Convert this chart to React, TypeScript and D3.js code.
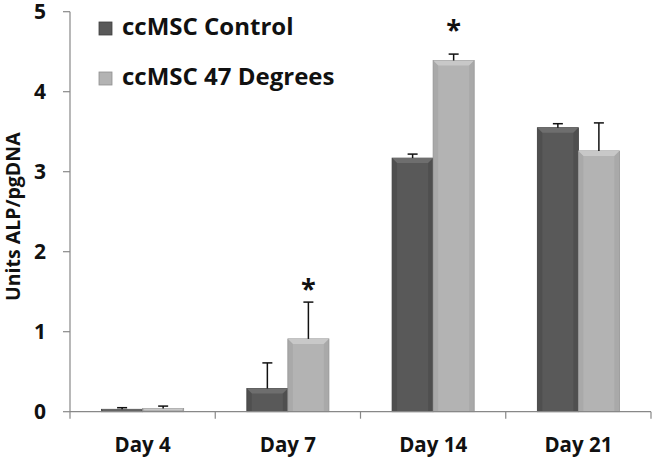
import React from "react";
import * as d3 from "d3";

const days = ["Day 4", "Day 7", "Day 14", "Day 21"];
const seriesNames = ["ccMSC Control", "ccMSC 47 Degrees"];
const controlValues = [0.03, 0.29, 3.17, 3.55];
const controlErr = [0.02, 0.32, 0.05, 0.05];
const heatValues = [0.04, 0.91, 4.39, 3.26];
const heatErr = [0.03, 0.46, 0.08, 0.35];
// asterisk baseline level (in y units), null when not significant
const starLevel = [null, 1.42, 4.66, null];
const yTicks = [0, 1, 2, 3, 4, 5];

const W = 652, H = 459;
const margin = { left: 70, right: 1, top: 11.7, bottom: 47.3 };
const font = "'Open Sans', Lato, sans-serif";

const colors = [
  { base: "#595959", edge: "#3f3f3f", light: "#6e6e6e", dark: "#4a4a4a" },
  { base: "#b3b3b3", edge: "#8f8f8f", light: "#c8c8c8", dark: "#a2a2a2" },
];

function Bar({ x, y, w, h, c }: { x: number; y: number; w: number; h: number; c: typeof colors[0] }) {
  const b = Math.min(5, h / 2, w / 2);
  return (
    <g>
      <rect x={x} y={y} width={w} height={h} fill={c.base} stroke={c.edge} strokeWidth={0.8} />
      {h > 2 && (
        <>
          <polygon points={`${x},${y} ${x + w},${y} ${x + w - b},${y + b} ${x + b},${y + b}`} fill={c.light} />
          <polygon points={`${x},${y} ${x + b},${y + b} ${x + b},${y + h} ${x},${y + h}`} fill={c.dark} opacity={0.6} />
          <polygon points={`${x + w},${y} ${x + w - b},${y + b} ${x + w - b},${y + h} ${x + w},${y + h}`} fill={c.dark} opacity={0.6} />
        </>
      )}
    </g>
  );
}

export default function App() {
  const x = d3.scaleBand().domain(days).range([margin.left, W - margin.right]).paddingInner(0).paddingOuter(0);
  const y = d3.scaleLinear().domain([0, 5]).range([H - margin.bottom, margin.top]);
  const inner = d3.scaleBand().domain(["0", "1"]).range([0, x.bandwidth()]).paddingOuter(0.77).paddingInner(0);
  const y0 = y(0);
  const groups = [
    { vals: controlValues, err: controlErr },
    { vals: heatValues, err: heatErr },
  ];

  return (
    <svg width={W} height={H} style={{ position: "absolute", left: 0, top: 0, background: "#fff" }}>
      {/* y axis */}
      <line x1={margin.left} x2={margin.left} y1={y(5)} y2={y0} stroke="#888" strokeWidth={1.2} />
      {yTicks.map(t => (
        <g key={t}>
          <line x1={margin.left - 7} x2={margin.left} y1={y(t)} y2={y(t)} stroke="#888" strokeWidth={1.2} />
          <text x={46} y={y(t)} dy="0.36em" textAnchor="end" fontFamily={font} fontWeight={700} fontSize={21} fill="#111">{t}</text>
        </g>
      ))}
      <text transform={`translate(20,${(y(5) + y0) / 2 + 5}) rotate(-90)`} textAnchor="middle" fontFamily={font} fontWeight={700} fontSize={19.5} fill="#111">Units ALP/pgDNA</text>

      {/* bars */}
      {days.map((d, i) => (
        <g key={d}>
          {groups.map((g, s) => {
            const bx = x(d)! + inner(String(s))!;
            const bw = inner.bandwidth();
            const top = y(g.vals[i]);
            const et = y(g.vals[i] + g.err[i]);
            const cx = bx + bw / 2;
            return (
              <g key={s}>
                <Bar x={bx} y={top} w={bw} h={y0 - top} c={colors[s]} />
                <line x1={cx} x2={cx} y1={top} y2={et} stroke="#111" strokeWidth={1.5} />
                <line x1={cx - 5} x2={cx + 5} y1={et} y2={et} stroke="#111" strokeWidth={1.5} />
              </g>
            );
          })}
          {starLevel[i] !== null && (
            <text x={x(d)! + inner("1")! + inner.bandwidth() / 2} y={y(starLevel[i] as number)} textAnchor="middle" fontFamily={font} fontWeight={700} fontSize={27} fill="#111">*</text>
          )}
        </g>
      ))}

      {/* x axis */}
      <line x1={margin.left} x2={W - margin.right} y1={y0} y2={y0} stroke="#888" strokeWidth={1.2} />
      {[...days.map(d => x(d)!), W - margin.right].map((t, i) => (
        <line key={i} x1={t} x2={t} y1={y0} y2={y0 + 7} stroke="#888" strokeWidth={1.2} />
      ))}
      {days.map(d => (
        <text key={d} x={x(d)! + x.bandwidth() / 2} y={452} textAnchor="middle" fontFamily={font} fontWeight={700} fontSize={20.5} fill="#111">{d}</text>
      ))}

      {/* legend */}
      {seriesNames.map((n, i) => (
        <g key={n} transform={`translate(99,${35 + i * 50})`}>
          <rect x={0} y={-13} width={13} height={13} fill={colors[i].base} stroke={colors[i].edge} strokeWidth={0.8} />
          <text x={23} y={0} fontFamily={font} fontWeight={700} fontSize={24} fill="#111">{n}</text>
        </g>
      ))}
    </svg>
  );
}
